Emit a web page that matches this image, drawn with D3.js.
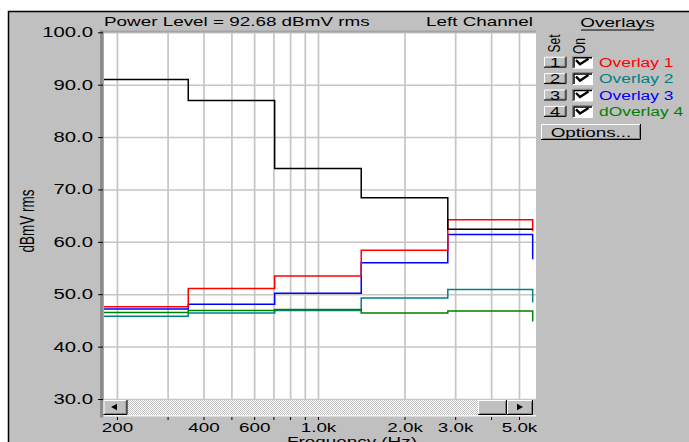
<!DOCTYPE html>
<html>
<head>
<meta charset="utf-8">
<script src="https://cdn.jsdelivr.net/npm/d3@7"></script>
<style>
  body { margin: 0; background: #fff; }
  svg { display: block; font-family: "Liberation Sans", Arial, sans-serif; }
</style>
</head>
<body>
<div id="chart"></div>
<script>
// octave bands (Hz) and their edges
const bandCentres = [250, 500, 1000, 2000, 4000];
const bandEdges = [177, 354, 707, 1414, 2828, 5580];

// levels per band, dBmV rms
const powerLevel = [91.0, 87.0, 74.0, 68.4, 62.4];
const overlay1 = [47.6, 51.1, 53.5, 58.4, 64.2];
const overlay2 = [45.8, 46.4, 46.9, 49.3, 50.9];
const overlay3 = [47.2, 48.1, 50.2, 56.0, 61.4];
const overlay4 = [46.5, 46.9, 47.1, 46.4, 46.8];
// level where each trace falls off past the last band
const tailLevels = [62.4, 62.0, 48.4, 56.7, 44.8];

const overlayNames = ['Overlay 1', 'Overlay 2', 'Overlay 3', 'dOverlay 4'];
const overlayColors = ['#ff0000', '#008080', '#0000ff', '#008000'];

const gridFreqs = [200, 300, 400, 500, 600, 700, 800, 900, 1000, 2000, 3000, 4000, 5000];
const freqLabels = { 200: '200', 400: '400', 600: '600', 1000: '1.0k', 2000: '2.0k', 3000: '3.0k', 5000: '5.0k' };
const levelTicks = [30, 40, 50, 60, 70, 80, 90, 100];

const titleText = 'Power Level = 92.68 dBmV rms';
const channelText = 'Left Channel';

const W = 689, H = 442;
const plot = { left: 104, right: 536, top: 32, bottom: 399 };
const SX = 1.45; // old screen grab is stretched sideways

const x = d3.scaleLog().domain([180.3, 5730]).range([plot.left, plot.right]);
const y = d3.scaleLinear().domain([30, 100]).range([399, 32.3]);

// stretch text horizontally like the reference
function stretch(sel, k = SX) {
  sel.each(function () {
    const w = this.getComputedTextLength();
    this.setAttribute('textLength', w * k);
    this.setAttribute('lengthAdjust', 'spacingAndGlyphs');
  });
}

// win95 style raised box
function bevel(g, bx, by, bw, bh) {
  const b = g.append('g');
  b.append('rect').attr('x', bx).attr('y', by).attr('width', bw).attr('height', bh).attr('fill', '#c0c0c0');
  b.append('path').attr('d', `M${bx + 0.5},${by + bh - 1}V${by + 0.5}H${bx + bw - 1}`)
    .attr('stroke', '#fff').attr('fill', 'none');
  b.append('path').attr('d', `M${bx + 1.5},${by + bh - 1.5}H${bx + bw - 1.5}V${by + 1}`)
    .attr('stroke', '#808080').attr('fill', 'none');
  b.append('path').attr('d', `M${bx},${by + bh - 0.5}H${bx + bw - 0.5}V${by}`)
    .attr('stroke', '#000').attr('fill', 'none');
  return b;
}

const svg = d3.select('#chart').append('svg')
  .attr('width', W)
  .attr('height', H);

const defs = svg.append('defs');
defs.append('clipPath').attr('id', 'plot-clip')
  .append('rect')
  .attr('x', plot.left).attr('y', plot.top)
  .attr('width', plot.right - plot.left).attr('height', plot.bottom - plot.top);
const pat = defs.append('pattern').attr('id', 'dots')
  .attr('width', 2).attr('height', 2).attr('patternUnits', 'userSpaceOnUse');
pat.append('rect').attr('width', 2).attr('height', 2).attr('fill', '#fff');
pat.append('rect').attr('width', 1).attr('height', 1).attr('fill', '#c0c0c0');
pat.append('rect').attr('x', 1).attr('y', 1).attr('width', 1).attr('height', 1).attr('fill', '#c0c0c0');

// window frame
svg.append('rect').attr('x', 8).attr('y', 11).attr('width', W - 8).attr('height', H - 11).attr('fill', '#c0c0c0');
svg.append('path').attr('d', `M8.5,${H}V11.5H${W}`).attr('stroke', '#000').attr('fill', 'none').attr('stroke-width', 1.5);

// plot area
svg.append('rect')
  .attr('x', plot.left).attr('y', plot.top)
  .attr('width', plot.right - plot.left).attr('height', plot.bottom - plot.top + 1)
  .attr('fill', '#fff');

const xGrid = svg.append('g')
  .attr('transform', `translate(0,${plot.bottom})`)
  .call(d3.axisBottom(x).tickValues(gridFreqs).tickSize(-(plot.bottom - plot.top)).tickFormat(''));
xGrid.select('.domain').remove();
xGrid.selectAll('line').attr('stroke', '#c6c6c6').attr('stroke-width', 1.7);

const yGrid = svg.append('g')
  .attr('transform', `translate(${plot.left},0)`)
  .call(d3.axisLeft(y).tickValues(levelTicks).tickSize(-(plot.right - plot.left)).tickFormat(''));
yGrid.select('.domain').remove();
yGrid.selectAll('line').attr('stroke', '#c6c6c6').attr('stroke-width', 1.5);

// traces
const stepLine = d3.line()
  .x(d => x(d[0]))
  .y(d => y(d[1]))
  .curve(d3.curveStepAfter);

function stepPoints(values, tail) {
  const pts = values.map((v, i) => [bandEdges[i], v]);
  const last = bandEdges[values.length];
  pts.push([last, values[values.length - 1]]);
  pts.push([last, tail]);
  return pts;
}

const traces = [
  { values: overlay2, tail: tailLevels[2], color: overlayColors[1] },
  { values: overlay4, tail: tailLevels[4], color: overlayColors[3] },
  { values: overlay3, tail: tailLevels[3], color: overlayColors[2] },
  { values: overlay1, tail: tailLevels[1], color: overlayColors[0] },
  { values: powerLevel, tail: tailLevels[0], color: '#000' },
];

svg.append('g')
  .attr('clip-path', 'url(#plot-clip)')
  .selectAll('path')
  .data(traces)
  .join('path')
  .attr('d', d => stepLine(stepPoints(d.values, d.tail)))
  .attr('fill', 'none')
  .attr('stroke', d => d.color)
  .attr('stroke-width', 1.5);

// plot borders
svg.append('rect').attr('x', 100).attr('y', 30.5).attr('width', plot.right - 100).attr('height', 2).attr('fill', '#a4a4a4');
svg.append('rect').attr('x', 100).attr('y', 30.5).attr('width', 3.5).attr('height', 387).attr('fill', '#8c8c8c');

// scroll bar
const sb = svg.append('g');
sb.append('rect').attr('x', 127).attr('y', 400).attr('width', 352).attr('height', 15).attr('fill', 'url(#dots)');
sb.append('rect').attr('x', 103.5).attr('y', 415).attr('width', plot.right - 103.5).attr('height', 1.5).attr('fill', '#f2f2f2');
bevel(sb, 103.5, 400, 24, 15);
sb.append('path').attr('d', 'M111,407L117,403.8V410.2Z').attr('fill', '#000');
bevel(sb, 478, 400, 29, 15);
bevel(sb, 507, 400, 26, 15);
sb.append('path').attr('d', 'M523,407L517,403.8V410.2Z').attr('fill', '#000');

// axes
const xAxis = svg.append('g')
  .attr('transform', 'translate(0,417)')
  .call(d3.axisBottom(x).tickValues(gridFreqs).tickSize(3).tickPadding(3)
    .tickFormat(d => freqLabels[d] || ''));
xAxis.attr('font-size', 13).attr('font-family', null);
xAxis.select('.domain').remove();
xAxis.selectAll('text').attr('fill', '#000').call(stretch);

const yAxis = svg.append('g')
  .attr('transform', 'translate(103,0)')
  .call(d3.axisLeft(y).tickValues(levelTicks).tickSize(5).tickPadding(5).tickFormat(d3.format('.1f')));
yAxis.attr('font-size', 14).attr('font-family', null);
yAxis.select('.domain').remove();
yAxis.selectAll('text').attr('fill', '#000').call(stretch);

svg.append('text')
  .attr('x', 352).attr('y', 446)
  .attr('text-anchor', 'middle')
  .attr('font-size', 13)
  .text('Frequency (Hz)')
  .call(stretch);

svg.append('text')
  .attr('transform', `translate(27,221) scale(${SX},1) rotate(-90)`)
  .attr('text-anchor', 'middle')
  .attr('dy', '0.35em')
  .attr('font-size', 13.5)
  .text('dBmV rms');

// title band
svg.append('text')
  .attr('x', 104).attr('y', 25.5)
  .attr('font-size', 13)
  .text(titleText)
  .call(stretch);
svg.append('text')
  .attr('x', 533).attr('y', 25.5)
  .attr('text-anchor', 'end')
  .attr('font-size', 13)
  .text(channelText)
  .call(stretch);

// overlays panel
const panel = svg.append('g');
panel.append('text')
  .attr('x', 617.5).attr('y', 26.5)
  .attr('text-anchor', 'middle')
  .attr('font-size', 13)
  .text('Overlays')
  .call(stretch);
panel.append('line')
  .attr('x1', 581).attr('x2', 654).attr('y1', 30).attr('y2', 30)
  .attr('stroke', '#000').attr('stroke-width', 1);

[['Set', 554, 43.5], ['On', 578.5, 46]].forEach(([t, cx, cy]) => {
  panel.append('text')
    .attr('transform', `translate(${cx},${cy}) scale(${SX},1) rotate(-90)`)
    .attr('text-anchor', 'middle')
    .attr('dy', '0.35em')
    .attr('font-size', 12)
    .text(t);
});

const rowTop = 56.7, rowStep = 16.4;
overlayNames.forEach((name, i) => {
  const ry = rowTop + i * rowStep;
  bevel(panel, 544, ry, 22.5, 11);
  panel.append('text')
    .attr('x', 555).attr('y', ry + 10)
    .attr('text-anchor', 'middle')
    .attr('font-size', 12.5)
    .text(i + 1)
    .call(stretch);

  // check box
  panel.append('rect').attr('x', 572).attr('y', ry - 1).attr('width', 21).attr('height', 13).attr('fill', '#fff');
  panel.append('path').attr('d', `M572.5,${ry + 12}V${ry - 0.5}H593`).attr('stroke', '#808080').attr('fill', 'none');
  panel.append('path').attr('d', `M574,${ry + 11}V${ry + 1}H592`).attr('stroke', '#000').attr('fill', 'none').attr('stroke-width', 1.5);
  panel.append('path')
    .attr('d', `M576,${ry + 3.5}L580,${ry + 7.5}L588.5,${ry + 2}`)
    .attr('stroke', '#000').attr('fill', 'none').attr('stroke-width', 2.4);

  panel.append('text')
    .attr('x', 599).attr('y', ry + 10)
    .attr('font-size', 12)
    .attr('fill', overlayColors[i])
    .text(name)
    .call(stretch);
});

bevel(panel, 541, 124, 100, 16);
panel.append('text')
  .attr('x', 591).attr('y', 136.5)
  .attr('text-anchor', 'middle')
  .attr('font-size', 13)
  .text('Options...')
  .call(stretch);
</script>
</body>
</html>
